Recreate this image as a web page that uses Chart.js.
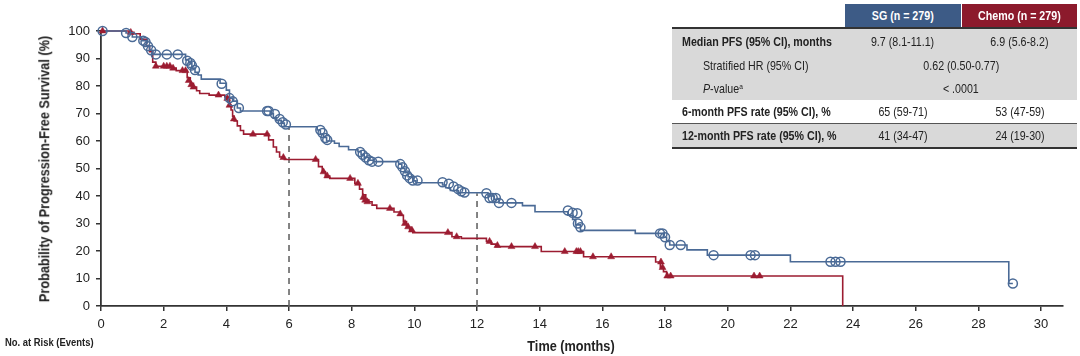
<!DOCTYPE html>
<html>
<head>
<meta charset="utf-8">
<script src="https://cdn.jsdelivr.net/npm/chart.js@4.4.1/dist/chart.umd.min.js"></script>
<style>
  html, body { margin: 0; padding: 0; background: #fff; }
  #wrap { position: relative; width: 1080px; height: 356px; overflow: hidden; color: #222; font-family: "Liberation Sans", Arial, sans-serif; }
  canvas { position: absolute; left: 0; top: 0; }
  .lbl { position: absolute; white-space: nowrap; font-weight: bold; line-height: 1; }
  .nar { display: inline-block; transform: scaleX(0.82); white-space: nowrap; }
  #tbl { position: absolute; left: 672px; top: 4px; width: 405px; color: #222; font-size: 13px; }
  .row { position: absolute; left: 0; width: 405px; }
  .cell { position: absolute; top: 0; height: 100%; display: flex; align-items: center; white-space: nowrap; }
  .cell .nar { transform-origin: left center; }
  .ctr { justify-content: center; }
  .ctr .nar { transform-origin: center center; }
  sup { font-size: 0.62em; vertical-align: 0.45em; line-height: 0; }
</style>
</head>
<body>
<div id="wrap">
  <canvas id="c" width="1080" height="356"></canvas>
  <div class="lbl" id="yt" style="left:44px;top:168.5px;font-size:15.5px;transform:translate(-50%,-50%) rotate(-90deg) scaleX(0.82);">Probability of Progression-Free Survival (%)</div>
  <div class="lbl" id="xt" style="left:571px;top:346px;font-size:15.5px;transform:translate(-50%,-50%) scaleX(0.82);">Time (months)</div>
  <div class="lbl" id="risk" style="left:5px;top:343px;font-size:11.5px;transform:translateY(-50%) scaleX(0.82);transform-origin:left center;">No. at Risk (Events)</div>
  <div id="tbl"></div>
</div>
<script>
// ---- SG arm: Kaplan-Meier step points (months, % PFS) ----
const sgTime = [0,0.8,1.0,1.3,1.45,1.55,1.65,2.7,2.8,2.9,3.0,3.1,3.2,3.8,4.0,4.1,4.2,4.35,4.45,5.4,5.5,5.6,5.75,5.85,6.9,7.0,7.1,7.2,7.45,7.6,7.9,8.2,8.3,8.4,8.55,8.7,9.5,9.6,9.7,9.8,9.95,10.05,10.9,11.0,11.15,11.4,12.35,12.55,12.7,13.45,13.85,14.9,15.05,15.15,15.3,17.05,17.95,18.05,18.15,18.7,19.35,22.0,28.97,29.1];
const sgSurv = [100,99.3,97.8,96.5,94.5,93,91.5,89.5,88.4,86.5,85,84,82.5,81,78.5,75.6,74.5,72,70.9,70,68.5,67.5,66.5,65.2,64,62.5,61.3,60,59.2,58,56.8,56.1,55,54,53,52.5,51.6,50,48.5,47,45.5,44.8,44,43,42,41.2,40,38.8,37.5,36.5,34.3,33,31.5,29.5,27.5,26.4,25,23.5,22.2,20.4,18.5,16.1,8.2,8.2];
// SG censored observations
const sgCensTime = [0.05,0.8,1.0,1.35,1.42,1.5,1.6,1.75,2.1,2.45,2.75,2.85,2.9,3.0,3.85,4.1,4.2,4.4,5.3,5.35,5.55,5.7,5.8,5.9,7.0,7.07,7.16,7.22,8.27,8.35,8.45,8.55,8.65,8.85,9.55,9.62,9.7,9.77,9.85,9.95,10.1,10.9,11.1,11.25,11.4,11.5,11.6,12.3,12.4,12.5,12.6,12.7,13.1,14.9,15.05,15.2,15.22,15.3,17.84,17.92,18.0,18.15,18.5,19.55,20.73,20.87,23.28,23.44,23.6,29.1];
const sgCensSurv = [100,99.3,97.8,96.5,96,94.5,93,91.5,91.5,91.5,89.2,88.4,87.5,85.8,80.8,75.6,74.5,72,70.9,70.9,69.8,68,66.8,66,64,62.9,61.1,60.4,56,55,54,53,52.5,52.5,51.6,50.5,49,47.5,46.5,45.6,45.6,45,44.5,43.5,42.5,41.7,41.3,41,39.3,39.3,39.3,37.5,37.5,34.7,33.9,33.7,30,28.6,26.4,26.4,25,22.2,22.2,18.5,18.5,18.5,16.1,16.1,16.1,8.2];

// ---- Chemo arm ----
const chemoTime = [0,0.9,1.05,1.25,1.45,1.55,1.65,1.75,2.3,2.4,2.75,2.85,2.95,3.05,3.15,3.45,3.95,4.05,4.1,4.15,4.2,4.25,4.35,4.45,4.55,5.35,5.5,5.6,5.7,5.85,6.94,7.06,7.16,7.3,8.1,8.25,8.35,8.45,8.55,8.65,8.8,9.35,9.55,9.65,9.75,9.85,9.95,11.2,11.5,12.3,12.45,12.6,14.05,15.4,17.7,17.85,17.95,18.05,23.67];
const chemoSurv = [100,99.5,99,97,94.5,92.5,88.7,87.2,86.5,85.6,83,81,79.6,78.3,77.3,76.7,76,74.5,73,71.3,69,67.3,65.5,63.8,62.5,60.4,57.8,56,54.2,53.3,50.7,48.8,47.3,46.4,44.6,42.5,40.4,38.5,37.9,36.7,35.5,34.2,33,30.7,28.8,27.6,26.7,25.2,24.6,23.5,22.5,21.6,19.8,17.9,16,14,12.5,10.9,0];
const chemoCensTime = [0.05,0.95,1.75,2.0,2.1,2.2,2.3,2.6,2.7,2.8,2.88,2.95,3.75,4.03,4.1,4.24,4.85,5.3,5.82,6.85,7.1,7.22,7.95,8.2,8.37,8.43,8.5,9.22,9.55,9.7,9.8,9.92,11.07,11.35,12.4,12.65,13.1,13.85,14.8,15.17,15.23,15.3,15.7,16.28,17.87,17.92,18.07,18.18,20.84,21.02];
const chemoCensSurv = [100,99.5,87.2,87.2,87.2,87.2,86.5,85.6,85.6,82,80.5,79.6,76.7,75.5,73,68,62.5,62.5,54,53.3,48.8,47.3,46.4,44.6,39.5,38.5,37.9,35.5,33.5,30,28.8,27.6,26.7,25.2,23.5,22,21.6,21.6,19.8,19.8,19.8,19.8,17.9,17.9,16,14,10.9,10.9,10.9,10.9];

// ---- landmark reference lines (months, % PFS of SG) ----
const landmarkTime = [6, 12];
const landmarkSurv = [65, 41];

// ---- axis ticks ----
const xTicks = [0,2,4,6,8,10,12,14,16,18,20,22,24,26,28,30];
const yTicks = [0,10,20,30,40,50,60,70,80,90,100];

// ---- summary table ----
const tableHeader = ['SG (n = 279)', 'Chemo (n = 279)'];
const tableLabels = ['Median PFS (95% CI), months', 'Stratified HR (95% CI)', '<i>P</i>-value<sup>a</sup>', '6-month PFS rate (95% CI), %', '12-month PFS rate (95% CI), %'];
const tableSG = ['9.7 (8.1-11.1)', '0.62 (0.50-0.77)', '&lt; .0001', '65 (59-71)', '41 (34-47)'];
const tableChemo = ['6.9 (5.6-8.2)', null, null, '53 (47-59)', '24 (19-30)'];

const BLUE = '#4a6a96';
const RED = '#9c1c31';
const FONT = '"Liberation Sans", Arial, sans-serif';

function pts(xs, ys) { return xs.map((x, i) => ({ x: x, y: ys[i] })); }
function nar(s) { return '<span class="nar">' + s + '</span>'; }

// Build the table
(function () {
  const t = document.getElementById('tbl');
  let h = '';
  h += '<div class="row" style="top:0;height:23px;">' +
       '<div class="cell ctr" style="left:173px;width:116px;background:#3d5b86;color:#fff;font-weight:bold;">' + nar(tableHeader[0]) + '</div>' +
       '<div class="cell ctr" style="left:290px;width:115px;background:#8c1a2c;color:#fff;font-weight:bold;">' + nar(tableHeader[1]) + '</div></div>';
  h += '<div class="row" style="top:23px;height:2px;background:#333;"></div>';
  const tops = [25, 49, 73, 96, 120];
  const hts = [24, 24, 23, 23, 23];
  const bg = ['#d9d9d9', '#d9d9d9', '#d9d9d9', '#fff', '#d9d9d9'];
  const bold = [true, false, false, true, true];
  const indent = [10, 31, 31, 10, 10];
  for (let i = 0; i < tableLabels.length; i++) {
    h += '<div class="row" style="top:' + tops[i] + 'px;height:' + hts[i] + 'px;background:' + bg[i] + ';">';
    h += '<div class="cell" style="left:' + indent[i] + 'px;font-weight:' + (bold[i] ? 'bold' : 'normal') + ';">' + nar(tableLabels[i]) + '</div>';
    if (tableChemo[i] === null) {
      h += '<div class="cell ctr" style="left:173px;width:232px;">' + nar(tableSG[i]) + '</div>';
    } else {
      h += '<div class="cell ctr" style="left:173px;width:116px;">' + nar(tableSG[i]) + '</div>';
      h += '<div class="cell ctr" style="left:290px;width:115px;">' + nar(tableChemo[i]) + '</div>';
    }
    h += '</div>';
  }
  h += '<div class="row" style="top:119px;height:1px;background:#555;"></div>';
  h += '<div class="row" style="top:143px;height:2px;background:#333;"></div>';
  t.innerHTML = h;
})();

const datasets = [];
landmarkTime.forEach((t, i) => {
  datasets.push({
    type: 'line', data: [{ x: t, y: 0 }, { x: t, y: landmarkSurv[i] }],
    borderColor: '#666', borderWidth: 1.6, borderDash: [6, 5], pointRadius: 0, fill: false, clip: false, order: 5
  });
});
datasets.push({
  type: 'line', label: 'Chemo', data: pts(chemoTime, chemoSurv), stepped: true,
  borderColor: RED, borderWidth: 1.6, pointRadius: 0, fill: false, clip: false, order: 4
});
datasets.push({
  type: 'line', label: 'SG', data: pts(sgTime, sgSurv), stepped: true,
  borderColor: BLUE, borderWidth: 1.6, pointRadius: 0, fill: false, clip: false, order: 3
});
datasets.push({
  type: 'scatter', label: 'Chemo censored', data: pts(chemoCensTime, chemoCensSurv), showLine: false,
  pointStyle: 'triangle', pointRadius: 4, backgroundColor: RED, borderColor: RED, borderWidth: 0.5, clip: false, order: 2
});
datasets.push({
  type: 'scatter', label: 'SG censored', data: pts(sgCensTime, sgCensSurv), showLine: false,
  pointStyle: 'circle', pointRadius: 4.5, backgroundColor: 'rgba(255,255,255,0)', borderColor: BLUE, borderWidth: 1.5, clip: false, order: 1
});

new Chart(document.getElementById('c'), {
  type: 'line',
  data: { datasets: datasets },
  options: {
    responsive: false,
    animation: false,
    devicePixelRatio: 1,
    layout: { padding: { left: 0, top: 31, right: 17, bottom: 0 } },
    plugins: { legend: { display: false }, tooltip: { enabled: false } },
    elements: { line: { tension: 0 } },
    scales: {
      x: {
        type: 'linear', min: 0, max: 30.7,
        afterBuildTicks: s => { s.ticks = xTicks.map(v => ({ value: v })); },
        afterFit: s => { s.height = 50; },
        ticks: { font: { family: FONT, size: 13 }, color: '#222', padding: 6, maxRotation: 0, autoSkip: false },
        grid: { display: true, drawOnChartArea: false, drawTicks: true, tickLength: 5, color: '#333', lineWidth: 1.5 },
        border: { display: true, color: '#333', width: 1.8 }
      },
      y: {
        type: 'linear', min: 0, max: 100,
        afterBuildTicks: s => { s.ticks = yTicks.map(v => ({ value: v })); },
        afterFit: s => { s.width = 101; },
        ticks: { font: { family: FONT, size: 13 }, color: '#222', padding: 6 },
        grid: { display: true, drawOnChartArea: false, drawTicks: true, tickLength: 5, color: '#333', lineWidth: 1.5 },
        border: { display: true, color: '#333', width: 1.8 }
      }
    }
  }
});
</script>
</body>
</html>
